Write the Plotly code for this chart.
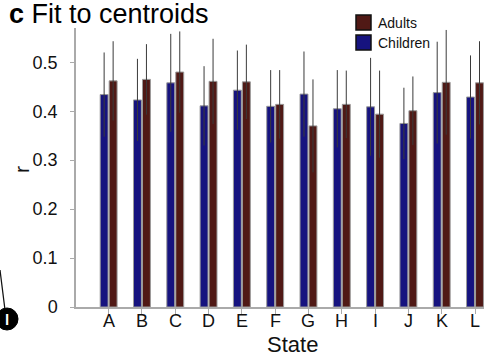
import plotly.graph_objects as go

states = ["A", "B", "C", "D", "E", "F", "G", "H", "I", "J", "K", "L"]
children = [0.434, 0.423, 0.458, 0.411, 0.443, 0.410, 0.435, 0.405, 0.409, 0.375, 0.438, 0.429]
children_err = [0.086, 0.084, 0.100, 0.081, 0.081, 0.074, 0.087, 0.079, 0.100, 0.073, 0.104, 0.085]
adults = [0.462, 0.465, 0.480, 0.461, 0.460, 0.414, 0.370, 0.414, 0.394, 0.401, 0.459, 0.458]
adults_err = [0.081, 0.072, 0.083, 0.087, 0.076, 0.070, 0.095, 0.069, 0.089, 0.070, 0.107, 0.085]
yticks = [0, 0.1, 0.2, 0.3, 0.4, 0.5]

BLUE = "#16137f"
RED = "#501915"
FONT = "Liberation Sans, Arial, sans-serif"

W, H = 484, 354
L, R, T, B = 76, 0, 28, 47
pw, ph = W - L - R, H - T - B

def px(x):
    return (x - L) / pw

def py(y):
    return (H - B - y) / ph

fig = go.Figure()
fig.add_trace(go.Bar(
    x=states, y=children, name="Children",
    marker=dict(color=BLUE, line=dict(color="#9a9a9a", width=1)),
    error_y=dict(type="data", array=children_err, color="#3a3a3a", thickness=1, width=0),
    showlegend=False,
))
fig.add_trace(go.Bar(
    x=states, y=adults, name="Adults",
    marker=dict(color=RED, line=dict(color="#9a9a9a", width=1)),
    error_y=dict(type="data", array=adults_err, color="#3a3a3a", thickness=1, width=0),
    showlegend=False,
))

shapes = []
annotations = []
# manual legend
for i, (lab, col) in enumerate([("Adults", RED), ("Children", BLUE)]):
    y0 = 15 + i * 20
    shapes.append(dict(type="rect", xref="paper", yref="paper",
                       x0=px(356), x1=px(371), y0=py(y0 + 15), y1=py(y0),
                       fillcolor=col, line=dict(color="#111", width=1.5)))
    annotations.append(dict(text=lab, xref="paper", yref="paper", x=px(376), y=py(y0 + 7.5),
                            xanchor="left", yanchor="middle", showarrow=False,
                            font=dict(size=14, color="#111", family=FONT)))

# x tick labels (placed close to the axis like the reference)
for s in states:
    annotations.append(dict(text=s, xref="x", yref="paper", x=s, y=py(321),
                            xanchor="center", yanchor="middle", showarrow=False,
                            font=dict(size=18, color="#111", family=FONT)))

# title
annotations.append(dict(text="<b>c</b> Fit to centroids", xref="paper", yref="paper",
                        x=px(7), y=py(-3), xanchor="left", yanchor="top", showarrow=False,
                        font=dict(size=27, color="#000", family=FONT)))
# axis labels
annotations.append(dict(text="State", xref="paper", yref="paper", x=px(292), y=py(359),
                        xanchor="center", yanchor="bottom", showarrow=False,
                        font=dict(size=22, color="#111", family=FONT)))
annotations.append(dict(text="r", xref="paper", yref="paper", x=px(22), y=py(170),
                        xanchor="center", yanchor="middle", showarrow=False, textangle=-90,
                        font=dict(size=21, color="#111", family=FONT)))

# cropped neighbouring-panel marker at bottom-left
shapes.append(dict(type="line", xref="paper", yref="paper", x0=px(0), y0=py(270), x1=px(5), y1=py(310),
                   line=dict(color="#111", width=1.2)))
shapes.append(dict(type="circle", xref="paper", yref="paper", x0=px(-4), x1=px(18), y0=py(330), y1=py(308),
                   fillcolor="#000", line=dict(color="#000", width=1)))
annotations.append(dict(text="<b>l</b>", xref="paper", yref="paper", x=px(7), y=py(319),
                        xanchor="center", yanchor="middle", showarrow=False,
                        font=dict(size=15, color="#fff", family=FONT)))

fig.update_layout(
    width=W, height=H,
    margin=dict(l=L, r=R, t=T, b=B, pad=0),
    paper_bgcolor="white", plot_bgcolor="white",
    barmode="group", bargap=0.46, bargroupgap=0.12,
    shapes=shapes, annotations=annotations,
    font=dict(family=FONT, color="#111"),
    xaxis=dict(range=[-0.98, 11.27], showgrid=False, zeroline=False,
               showline=True, linecolor="#aaaaaa", linewidth=1.5,
               ticks="outside", ticklen=5, tickcolor="#aaaaaa", showticklabels=False),
    yaxis=dict(range=[0, 0.57], tickvals=yticks, ticktext=["0", "0.1", "0.2", "0.3", "0.4", "0.5"],
               showgrid=False, zeroline=False,
               showline=True, linecolor="#aaaaaa", linewidth=1.5,
               ticks="outside", ticklen=4, tickcolor="#aaaaaa", ticklabelstandoff=9,
               tickfont=dict(size=18, color="#111", family=FONT)),
)

fig.write_html("out.html", config={"displayModeBar": False},
               post_script="document.body.style.margin='0';document.body.style.overflow='hidden';")
